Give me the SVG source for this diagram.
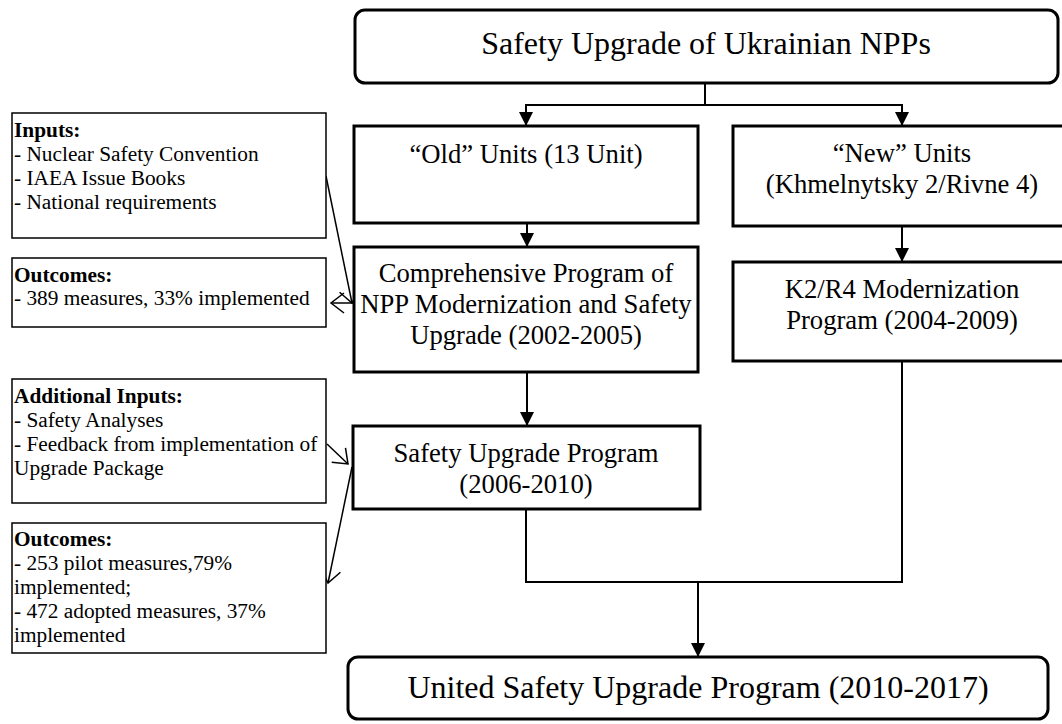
<svg xmlns="http://www.w3.org/2000/svg" width="1062" height="724" viewBox="0 0 1062 724">
<defs>
<style>
text{font-family:"Liberation Serif","Times New Roman",serif;fill:#000}
.main{fill:#fff;stroke:#000;stroke-width:3}
.side{fill:#fff;stroke:#000;stroke-width:1.5}
.t32{font-size:32px;text-anchor:middle}
.t27{font-size:26.67px;text-anchor:middle}
.t21{font-size:21.33px}
.b{font-weight:bold}
.con{fill:none;stroke:#000;stroke-width:2}
.thin{fill:none;stroke:#000;stroke-width:1.5}
</style>
<marker id="ah" markerUnits="userSpaceOnUse" markerWidth="14" markerHeight="14" refX="13" refY="7" orient="auto">
<path d="M0,0 L14,7 L0,14 z" fill="#000"/>
</marker>
<marker id="oh" markerUnits="userSpaceOnUse" markerWidth="16" markerHeight="24" refX="14" refY="11" orient="auto">
<path d="M1,1 L14,11 L1,21" fill="none" stroke="#000" stroke-width="1.5"/>
</marker>
</defs>
<rect width="1062" height="724" fill="#fff"/>

<g id="connectors">
<polyline class="con" points="705,83 705,105"/>
<polyline class="con" points="705,105 526,105 526,125" marker-end="url(#ah)"/>
<polyline class="con" points="705,105 902,105 902,125" marker-end="url(#ah)"/>
<line class="con" x1="527" y1="224" x2="527" y2="246" marker-end="url(#ah)"/>
<line class="con" x1="902" y1="227" x2="902" y2="261" marker-end="url(#ah)"/>
<line class="con" x1="527" y1="373" x2="527" y2="425" marker-end="url(#ah)"/>
<polyline class="con" points="526,510 526,582 902,582 902,362"/>
<line class="con" x1="698" y1="582" x2="698" y2="656" marker-end="url(#ah)"/>
<line class="thin" x1="326" y1="176" x2="352" y2="303" marker-end="url(#oh)"/>
<line class="thin" x1="354" y1="303" x2="331" y2="303" marker-end="url(#oh)"/>
<line class="thin" x1="327" y1="444" x2="348" y2="464" marker-end="url(#oh)"/>
<line class="thin" x1="352" y1="467" x2="328" y2="583" marker-end="url(#oh)"/>
</g>

<g id="top">
<rect class="main" x="355" y="10" width="703" height="73" rx="10"/>
<text class="t32" x="706" y="54">Safety Upgrade of Ukrainian NPPs</text>
</g>

<g id="old">
<rect class="main" x="354" y="126" width="344" height="97"/>
<text class="t27" x="526" y="163">“Old” Units (13 Unit)</text>
</g>

<g id="new">
<rect class="main" x="733" y="126" width="340" height="100"/>
<text class="t27" x="902" y="162">“New” Units</text>
<text class="t27" x="902" y="193">(Khmelnytsky 2/Rivne 4)</text>
</g>

<g id="comprehensive">
<rect class="main" x="354" y="247" width="344" height="125"/>
<text class="t27" x="526" y="282">Comprehensive Program of</text>
<text class="t27" x="526" y="313">NPP Modernization and Safety</text>
<text class="t27" x="526" y="344">Upgrade (2002-2005)</text>
</g>

<g id="k2r4">
<rect class="main" x="733" y="262" width="340" height="99"/>
<text class="t27" x="902" y="298">K2/R4 Modernization</text>
<text class="t27" x="902" y="329">Program (2004-2009)</text>
</g>

<g id="sup">
<rect class="main" x="353" y="426" width="347" height="83"/>
<text class="t27" x="526" y="462">Safety Upgrade Program</text>
<text class="t27" x="526" y="493">(2006-2010)</text>
</g>

<g id="united">
<rect class="main" x="348" y="657" width="700" height="62" rx="10"/>
<text class="t32" x="698" y="698">United Safety Upgrade Program (2010-2017)</text>
</g>

<g id="inputs">
<rect class="side" x="12" y="113" width="314" height="125"/>
<text class="t21 b" x="14" y="137">Inputs:</text>
<text class="t21" x="14" y="161">- Nuclear Safety Convention</text>
<text class="t21" x="14" y="185">- IAEA Issue Books</text>
<text class="t21" x="14" y="209">- National requirements</text>
</g>

<g id="outcomes1">
<rect class="side" x="12" y="258" width="314" height="69"/>
<text class="t21 b" x="14" y="282">Outcomes:</text>
<text class="t21" x="14" y="305">- 389 measures, 33% implemented</text>
</g>

<g id="addinputs">
<rect class="side" x="12" y="379" width="314" height="124"/>
<text class="t21 b" x="14" y="403">Additional Inputs:</text>
<text class="t21" x="14" y="427">- Safety Analyses</text>
<text class="t21" x="14" y="451">- Feedback from implementation of</text>
<text class="t21" x="14" y="475">Upgrade Package</text>
</g>

<g id="outcomes2">
<rect class="side" x="12" y="523" width="314" height="130"/>
<text class="t21 b" x="14" y="546">Outcomes:</text>
<text class="t21" x="14" y="570">- 253 pilot measures,79%</text>
<text class="t21" x="14" y="594">implemented;</text>
<text class="t21" x="14" y="618">- 472 adopted measures, 37%</text>
<text class="t21" x="14" y="642">implemented</text>
</g>
</svg>
